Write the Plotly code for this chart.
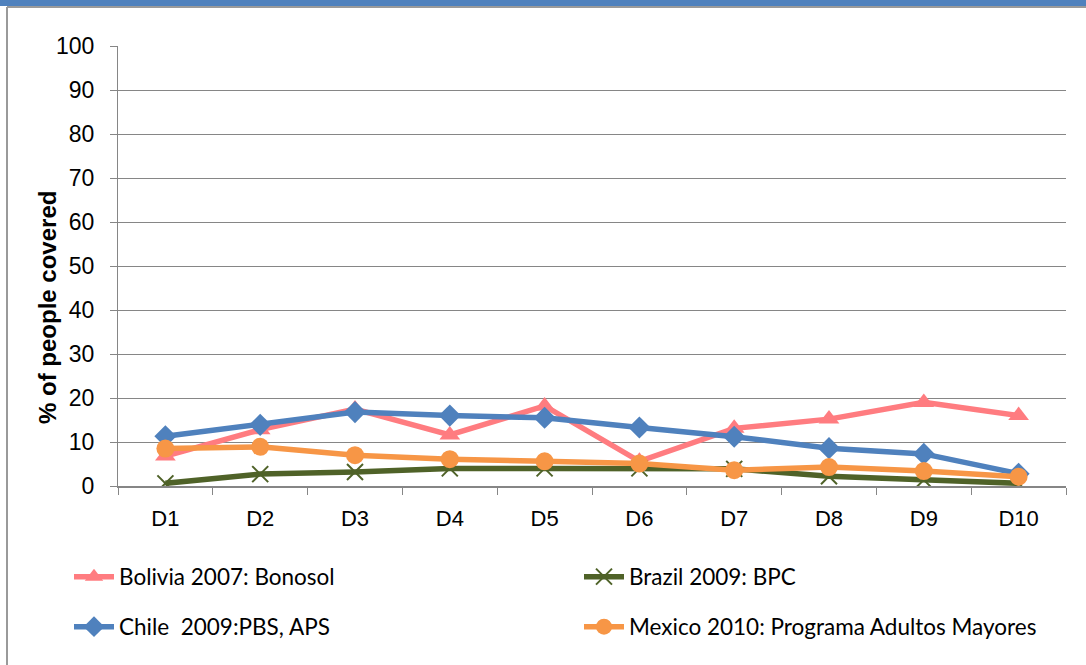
import plotly.graph_objects as go

W, H = 1086, 665

deciles = ["D1", "D2", "D3", "D4", "D5", "D6", "D7", "D8", "D9", "D10"]
bolivia = [6.8, 12.8, 17.5, 11.6, 18.2, 5.6, 13.1, 15.2, 19.0, 16.0]
brazil = [0.6, 2.7, 3.2, 4.0, 4.0, 4.0, 3.9, 2.2, 1.4, 0.6]
chile = [11.3, 13.9, 16.8, 16.0, 15.5, 13.3, 11.2, 8.6, 7.3, 2.8]
mexico = [8.5, 8.9, 7.0, 6.1, 5.6, 5.1, 3.6, 4.3, 3.4, 2.1]

names = ["Bolivia 2007: Bonosol", "Brazil 2009: BPC",
         "Chile  2009:PBS, APS", "Mexico 2010: Programa Adultos Mayores"]
colors = ["#FF7C80", "#4F6228", "#4F81BD", "#F79646"]
symbols = ["triangle-up", "x-thin", "diamond", "circle"]
sizes = [18, 16, 17, 18]
series = [bolivia, brazil, chile, mexico]
legends = ["legend", "legend2", "legend3", "legend4"]

ML, MR, MT, MB = 118, 20, 46, 179
PW, PH = W - ML - MR, H - MT - MB


def px_x(px):
    return (px - ML) / PW


def px_y(py):
    return 1 - (py - MT) / PH


fig = go.Figure()
for name, vals, col, sym, sz, lg in zip(names, series, colors, symbols, sizes, legends):
    marker = dict(symbol=sym, size=sz, color=col)
    if sym == "x-thin":
        marker["line"] = dict(color=col, width=2)
    fig.add_trace(go.Scatter(
        x=deciles, y=vals, name=name, mode="lines+markers",
        line=dict(color=col, width=5.5), marker=marker, legend=lg,
    ))

legend_font = dict(family="Lato, Carlito, Calibri, sans-serif", size=22.5, color="#000000")
leg_pos = {
    "legend": (69, 577),
    "legend2": (579, 577),
    "legend3": (69, 627),
    "legend4": (579, 627),
}
layout_leg = {}
for k, (px, py) in leg_pos.items():
    layout_leg[k] = dict(
        xref="container", yref="container",
        x=px / W, y=1 - py / H, xanchor="left", yanchor="middle",
        font=legend_font, bgcolor="rgba(0,0,0,0)", itemwidth=40,
    )

fig.update_layout(
    width=W, height=H,
    margin=dict(l=ML, r=MR, t=MT, b=MB, autoexpand=False),
    paper_bgcolor="white", plot_bgcolor="white",
    showlegend=True,
    **layout_leg,
)

fig.update_yaxes(
    range=[0, 100], dtick=10, tick0=0,
    showgrid=True, gridcolor="#868686", gridwidth=1,
    showline=True, linecolor="#868686", linewidth=1,
    ticks="outside", ticklen=7, tickcolor="#868686",
    ticklabelstandoff=11,
    tickfont=dict(family="Arial, Liberation Sans, sans-serif", size=23, color="#000000"),
    zeroline=False,
)
fig.update_xaxes(
    type="category", range=[-0.5, 9.5],
    showline=True, linecolor="#868686", linewidth=2,
    ticks="outside", ticklen=7, tickcolor="#868686", tickson="boundaries",
    ticklabelstandoff=12,
    tickfont=dict(family="Arial, Liberation Sans, sans-serif", size=22, color="#000000"),
    showgrid=False,
)

fig.add_annotation(
    text="<b>% of people covered</b>", textangle=-90,
    xref="paper", yref="paper", x=px_x(47), y=px_y(308),
    xanchor="center", yanchor="middle", showarrow=False,
    font=dict(family="Arial, Liberation Sans, sans-serif", size=24, color="#000000"),
)

# outer frame decorations
fig.add_shape(type="rect", xref="paper", yref="paper",
              x0=px_x(0), x1=px_x(W + 10), y0=px_y(0), y1=px_y(6),
              fillcolor="#4F81BD", line=dict(width=0), layer="above")
fig.add_shape(type="line", xref="paper", yref="paper",
              x0=px_x(7), x1=px_x(W + 10), y0=px_y(7), y1=px_y(7),
              line=dict(color="#9A9A9A", width=2))
fig.add_shape(type="line", xref="paper", yref="paper",
              x0=px_x(7), x1=px_x(7), y0=px_y(7), y1=px_y(H + 10),
              line=dict(color="#9A9A9A", width=2))

fig.write_html("out.html", config={"displayModeBar": False},
               post_script="document.body.style.margin='0';")
